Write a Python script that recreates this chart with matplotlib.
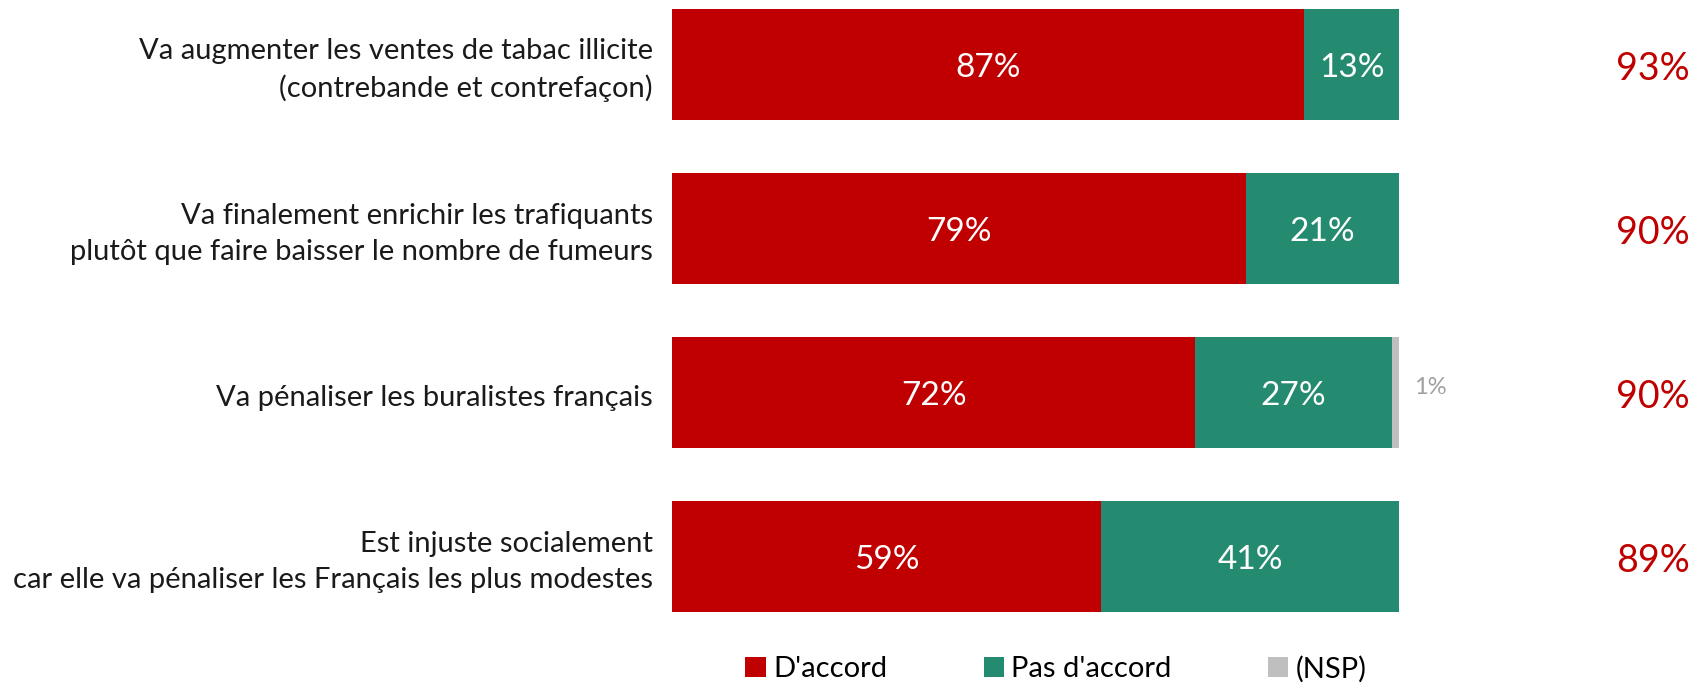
import matplotlib.pyplot as plt

plt.rcParams['font.family'] = ['Lato', 'DejaVu Sans']

labels = [
    "Va augmenter les ventes de tabac illicite\n(contrebande et contrefaçon)",
    "Va finalement enrichir les trafiquants\nplutôt que faire baisser le nombre de fumeurs",
    "Va pénaliser les buralistes français",
    "Est injuste socialement\ncar elle va pénaliser les Français les plus modestes",
]
accord = [87, 79, 72, 59]
pas_accord = [13, 21, 27, 41]
nsp = [0, 0, 1, 0]
totals = ["93%", "90%", "90%", "89%"]

red = '#C00000'
green = '#258B70'
grey = '#BFBFBF'

fig = plt.figure(figsize=(17.08, 6.83), dpi=100)
ax = fig.add_axes([672 / 1708, 63 / 683, 727 / 1708, 620 / 683])

y = list(range(len(labels)))
h = 0.68
b1 = ax.barh(y, accord, height=h, color=red, label="D'accord")
b2 = ax.barh(y, pas_accord, left=accord, height=h, color=green, label="Pas d'accord")
left3 = [a + p for a, p in zip(accord, pas_accord)]
b3 = ax.barh(y, nsp, left=left3, height=h, color=grey, label="(NSP)")

for i in y:
    ax.text(accord[i] / 2, i + 0.02, f"{accord[i]}%", color='white', fontsize=24,
            ha='center', va='center')
    ax.text(accord[i] + pas_accord[i] / 2, i + 0.02, f"{pas_accord[i]}%", color='white',
            fontsize=24, ha='center', va='center')
    if nsp[i]:
        ax.text(left3[i] + nsp[i] + 2, i - 0.03, f"{nsp[i]}%", color='#A0A0A0',
                fontsize=17, ha='left', va='center')
    ax.text(140, i + 0.03, totals[i], color=red, fontsize=27, ha='right', va='center',
            clip_on=False)
    ax.text(-2.6, i + 0.034, labels[i], color='#1a1a1a', fontsize=21, ha='right',
            va='center', linespacing=1.5)

ax.set_xlim(0, 100)
ax.set_ylim(3.387, -0.393)
ax.axis('off')

fig.legend(handles=[b1, b2, b3], loc='center', bbox_to_anchor=(1056 / 1708, 1 - 669 / 683),
           ncol=3, frameon=False, fontsize=21, handlelength=0.7, handleheight=0.7,
           handletextpad=0.25, columnspacing=3.3)

fig.savefig('out.png', dpi=100)
